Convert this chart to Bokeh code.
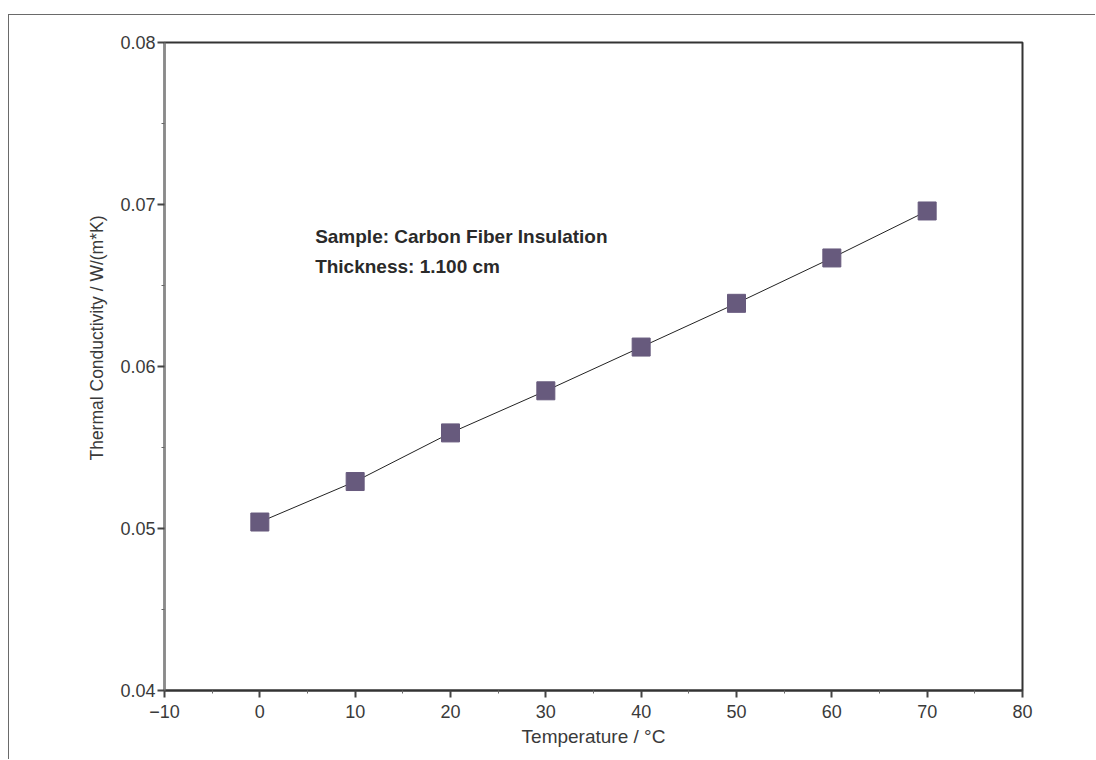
from bokeh.plotting import figure
from bokeh.models import FixedTicker, Range1d, Label, NumeralTickFormatter, Title
from bokeh.embed import file_html
from bokeh.resources import INLINE

temperature = [0, 10, 20, 30, 40, 50, 60, 70]
conductivity = [0.0504, 0.0529, 0.0559, 0.0585, 0.0612, 0.0639, 0.0667, 0.0696]
x_ticks = [-10, 0, 10, 20, 30, 40, 50, 60, 70, 80]
x_minor = [-5, 5, 15, 25, 35, 45, 55, 65, 75]
y_ticks = [0.04, 0.05, 0.06, 0.07, 0.08]
y_minor = [0.045, 0.055, 0.065, 0.075]
annotation_lines = ["Sample: Carbon Fiber Insulation", "Thickness: 1.100 cm"]
x_title = "Temperature / °C"
y_title = "Thermal Conductivity / W/(m*K)"

FONT = "Liberation Sans"

p = figure(width=1087, height=745, output_backend="svg", toolbar_location=None,
           x_range=Range1d(-10, 80), y_range=Range1d(0.04, 0.08),
           min_border_left=155, min_border_right=74, min_border_top=27, min_border_bottom=70,
           styles={"margin-top": "14px", "margin-left": "8px",
                   "border-top": "1px solid #6a6a6a",
                   "border-left": "1px solid #6a6a6a"})
p.grid.visible = False
p.outline_line_color = "#333333"
p.outline_line_width = 2
p.background_fill_color = "white"
p.border_fill_color = "white"

p.line(temperature, conductivity, line_color="#222222", line_width=1)
p.scatter(temperature, conductivity, marker="square", size=18,
          fill_color="#675a7d", line_color="#675a7d")

for ax in (p.xaxis[0], p.yaxis[0]):
    ax.major_label_text_font = FONT
    ax.major_label_text_font_size = "18px"
    ax.major_label_text_color = "#3a3a3a"
    ax.axis_label_text_font = FONT
    ax.axis_label_text_font_size = "19px"
    ax.axis_label_text_font_style = "normal"
    ax.axis_label_text_color = "#3a3a3a"
    ax.major_tick_in = 0
    ax.major_tick_out = 7
    ax.minor_tick_in = 0
    ax.minor_tick_out = 3
    ax.major_tick_line_color = "#444444"
    ax.minor_tick_line_color = "#666666"
    ax.major_tick_line_width = 2

p.xaxis[0].ticker = FixedTicker(ticks=x_ticks, minor_ticks=x_minor)
p.yaxis[0].ticker = FixedTicker(ticks=y_ticks, minor_ticks=y_minor)
p.yaxis[0].formatter = NumeralTickFormatter(format="0.00")
p.xaxis[0].axis_label = x_title
p.xaxis[0].axis_line_color = "#333333"
p.xaxis[0].axis_line_width = 2
p.yaxis[0].axis_line_color = "#8a8a8a"
p.yaxis[0].axis_line_width = 2
p.xaxis[0].major_label_standoff = 7
p.yaxis[0].major_label_standoff = 2
p.xaxis[0].axis_label_standoff = 5

# y-axis title as a side title, aligned toward the top of the frame
p.add_layout(Title(text=y_title, align="right", offset=173, vertical_align="middle",
                   text_font=FONT, text_font_size="17.5px", text_font_style="normal",
                   text_color="#3a3a3a", standoff=20), "left")

label_y = [0.068, 0.06617]
for txt, yy in zip(annotation_lines, label_y):
    p.add_layout(Label(x=5.8, y=yy, text=txt, text_font=FONT, text_font_size="19px",
                       text_font_style="bold", text_color="#2a2a2a", text_baseline="middle"))

open("out.html", "w").write(file_html(p, INLINE))
